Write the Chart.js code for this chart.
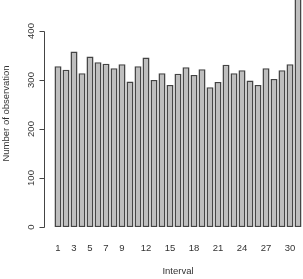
<!DOCTYPE html>
<html>
<head>
  <meta charset="UTF-8">
  <title>Number of observation per interval</title>
  <script src="https://cdn.jsdelivr.net/npm/chart.js"></script>
  <style>
    html, body { margin: 0; padding: 0; background: #fff; }
    #wrap { width: 303px; height: 279px; }
  </style>
</head>
<body>
  <div id="wrap"><canvas id="obsChart" width="303" height="279"></canvas></div>
  <script>
    // data
    const intervals = [1, 2, 3, 4, 5, 6, 7, 8, 9, 10, 11, 12, 13, 14, 15, 16,
                       17, 18, 19, 20, 21, 22, 23, 24, 25, 26, 27, 28, 29, 30, 31];
    const counts = [328, 321, 358, 314, 348, 336, 333, 324, 332, 297, 328, 346, 300, 314, 290, 313,
                    326, 310, 322, 285, 296, 331, 314, 320, 299, 290, 324, 302, 320, 332, 500];
    const shownXLabels = [1, 3, 5, 7, 9, 12, 15, 18, 21, 24, 27, 30];
    const yTicks = [0, 100, 200, 300, 400];

    const FONT = 'Liberation Sans, Arial, sans-serif';
    const TEXT = '#333';

    // R-style axes: y line only over the tick range, rotated labels, x labels without a line
    const rAxis = {
      id: 'rAxis',
      afterDraw(chart) {
        const ctx = chart.ctx;
        const x = chart.scales.x;
        const y = chart.scales.y;
        const area = chart.chartArea;
        const axX = 44.5;
        ctx.save();
        ctx.strokeStyle = '#444';
        ctx.lineWidth = 1;
        ctx.beginPath();
        ctx.moveTo(axX, Math.round(y.getPixelForValue(yTicks[0])) + 0.5);
        ctx.lineTo(axX, Math.round(y.getPixelForValue(yTicks[yTicks.length - 1])) + 0.5);
        yTicks.forEach(v => {
          const py = Math.round(y.getPixelForValue(v)) + 0.5;
          ctx.moveTo(axX - 5, py);
          ctx.lineTo(axX, py);
        });
        ctx.stroke();

        ctx.fillStyle = TEXT;
        ctx.font = '9.5px ' + FONT;
        ctx.textAlign = 'center';
        ctx.textBaseline = 'middle';
        yTicks.forEach(v => {
          ctx.save();
          ctx.translate(31.5, y.getPixelForValue(v));
          ctx.rotate(-Math.PI / 2);
          ctx.fillText(String(v), 0, 0);
          ctx.restore();
        });

        intervals.forEach((lab, i) => {
          if (shownXLabels.includes(lab)) {
            ctx.fillText(String(lab), x.getPixelForValue(i), 248);
          }
        });
        ctx.fillText('Interval', (area.left + area.right) / 2, 271);

        ctx.translate(6, (area.top + area.bottom) / 2);
        ctx.rotate(-Math.PI / 2);
        ctx.fillText('Number of observation', 0, 0);
        ctx.restore();
      }
    };

    new Chart(document.getElementById('obsChart').getContext('2d'), {
      type: 'bar',
      data: {
        labels: intervals,
        datasets: [{
          data: counts,
          backgroundColor: '#bebebe',
          borderColor: '#444',
          borderWidth: 1.5,
          borderSkipped: false,
          categoryPercentage: 0.88,
          barPercentage: 1
        }]
      },
      options: {
        responsive: false,
        animation: false,
        layout: { padding: { left: 54, right: 1, top: 0, bottom: 52 } },
        plugins: { legend: { display: false }, tooltip: { enabled: false } },
        scales: {
          x: { display: false },
          y: { display: false, min: 0, max: 463.3 }
        }
      },
      plugins: [rAxis]
    });
  </script>
</body>
</html>
